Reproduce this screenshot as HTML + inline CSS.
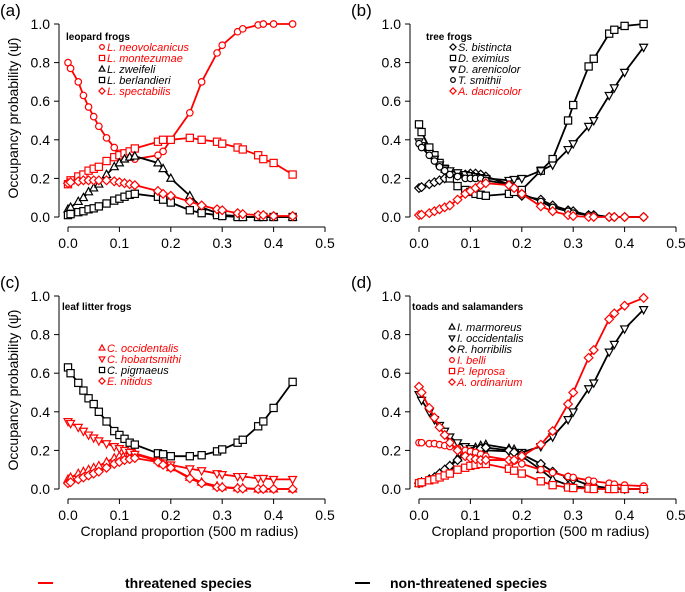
<!DOCTYPE html>
<html><head><meta charset="utf-8"><style>
body{margin:0;background:#fff}
svg{font-family:"Liberation Sans",sans-serif;display:block}
</style></head><body>
<svg id="chart" width="685" height="592" viewBox="0 0 685 592" xmlns="http://www.w3.org/2000/svg"></svg>
<script>
const xs=[0,0.005,0.02,0.03,0.04,0.05,0.06,0.075,0.09,0.1,0.11,0.12,0.13,0.175,0.185,0.2,0.237,0.26,0.29,0.3,0.33,0.34,0.37,0.38,0.4,0.437];
const xTicks=[0,0.1,0.2,0.3,0.4,0.5];
const xTickLabels=["0.0","0.1","0.2","0.3","0.4","0.5"];
const yTicks=[0,0.2,0.4,0.6,0.8,1.0];
const yTickLabels=["0.0","0.2","0.4","0.6","0.8","1.0"];
// panel a
const aNeovolcanicus=[0.80,0.77,0.70,0.63,0.57,0.52,0.47,0.41,0.36,0.33,0.32,0.31,0.30,0.32,0.34,0.40,0.54,0.70,0.85,0.89,0.96,0.975,0.995,1.0,1.0,1.0];
const aMontezumae=[0.17,0.19,0.21,0.22,0.24,0.25,0.26,0.29,0.31,0.32,0.33,0.34,0.355,0.39,0.40,0.40,0.41,0.40,0.39,0.38,0.36,0.35,0.32,0.30,0.28,0.22];
const aZweifeli=[0.04,0.05,0.08,0.10,0.13,0.15,0.17,0.22,0.26,0.28,0.30,0.31,0.315,0.28,0.25,0.20,0.11,0.05,0.02,0.01,0.005,0,0,0,0,0];
const aBerlandieri=[0.01,0.015,0.025,0.03,0.04,0.045,0.055,0.07,0.085,0.095,0.105,0.115,0.12,0.105,0.09,0.075,0.035,0.02,0.01,0.005,0,0,0,0,0,0];
const aSpectabilis=[0.175,0.18,0.185,0.19,0.19,0.19,0.19,0.19,0.185,0.18,0.175,0.17,0.165,0.135,0.12,0.11,0.08,0.06,0.04,0.035,0.02,0.015,0.01,0.01,0.005,0.005];
// panel b
const bBistincta=[0.15,0.155,0.17,0.18,0.19,0.20,0.205,0.215,0.22,0.225,0.225,0.22,0.21,0.17,0.14,0.11,0.09,0.06,0.035,0.03,0.01,0.01,0,0,0,0];
const bEximius=[0.48,0.44,0.36,0.32,0.28,0.25,0.20,0.16,0.14,0.13,0.12,0.115,0.11,0.12,0.13,0.14,0.24,0.30,0.50,0.58,0.78,0.82,0.95,0.97,0.99,1.0];
const bArenicolor=[0.39,0.37,0.33,0.30,0.27,0.25,0.24,0.23,0.22,0.215,0.21,0.205,0.20,0.19,0.195,0.20,0.24,0.27,0.35,0.38,0.47,0.50,0.63,0.67,0.75,0.88];
const bSmithii=[0.38,0.36,0.32,0.29,0.26,0.24,0.22,0.21,0.20,0.20,0.20,0.20,0.19,0.17,0.15,0.12,0.08,0.05,0.03,0.02,0.01,0.01,0,0,0,0];
const bDacnicolor=[0.01,0.012,0.02,0.03,0.04,0.05,0.06,0.09,0.12,0.135,0.15,0.165,0.175,0.165,0.15,0.12,0.055,0.03,0.01,0.005,0,0,0,0,0,0];
// panel c
const cOccidentalis=[0.05,0.06,0.08,0.09,0.10,0.11,0.12,0.14,0.16,0.17,0.18,0.185,0.185,0.15,0.13,0.11,0.06,0.035,0.015,0.01,0.005,0.005,0,0,0,0];
const cHobartsmithi=[0.35,0.34,0.32,0.30,0.28,0.265,0.25,0.235,0.22,0.21,0.20,0.19,0.18,0.145,0.135,0.125,0.105,0.095,0.08,0.075,0.065,0.065,0.055,0.055,0.05,0.05];
const cPigmaeus=[0.63,0.60,0.55,0.51,0.47,0.44,0.40,0.35,0.30,0.28,0.26,0.24,0.23,0.185,0.18,0.17,0.17,0.175,0.195,0.205,0.24,0.255,0.325,0.35,0.42,0.555];
const cNitidus=[0.03,0.035,0.05,0.06,0.07,0.08,0.09,0.11,0.13,0.14,0.15,0.155,0.16,0.14,0.125,0.11,0.055,0.03,0.01,0.008,0.003,0.002,0,0,0,0];
// panel d
const dMarmoreus=[0.03,0.035,0.05,0.06,0.08,0.10,0.12,0.16,0.19,0.20,0.215,0.225,0.23,0.21,0.205,0.17,0.10,0.05,0.02,0.015,0.005,0.003,0,0,0,0];
const dOccidentalis=[0.49,0.46,0.40,0.36,0.33,0.30,0.27,0.24,0.22,0.21,0.20,0.20,0.20,0.195,0.19,0.19,0.22,0.27,0.36,0.40,0.52,0.55,0.71,0.75,0.83,0.93];
const dHorribilis=[0.03,0.035,0.05,0.06,0.08,0.10,0.12,0.15,0.18,0.19,0.20,0.21,0.215,0.20,0.19,0.18,0.13,0.09,0.06,0.05,0.02,0.015,0.005,0.005,0,0];
const dBelli=[0.24,0.24,0.235,0.235,0.23,0.225,0.22,0.21,0.20,0.195,0.19,0.18,0.17,0.15,0.145,0.13,0.10,0.085,0.065,0.06,0.045,0.04,0.03,0.025,0.02,0.015];
const dLeprosa=[0.03,0.035,0.045,0.05,0.06,0.07,0.08,0.10,0.11,0.12,0.125,0.13,0.13,0.105,0.095,0.08,0.04,0.02,0.008,0.005,0.002,0,0,0,0,0];
const dOrdinarium=[0.53,0.50,0.42,0.37,0.32,0.28,0.24,0.20,0.17,0.16,0.155,0.15,0.15,0.15,0.15,0.17,0.23,0.30,0.44,0.50,0.68,0.72,0.88,0.91,0.95,0.99];

const RED="#ff0000",BLK="#000";
const panels=[
 {id:"a",label:"(a)",dx:0,dy:0,title:"leopard frogs",tx:66,ty:40,lx:102,ly:47,yTitle:true,xTitle:false,
  series:[["L. neovolcanicus",aNeovolcanicus,RED,"circle"],["L. montezumae",aMontezumae,RED,"square"],["L. zweifeli",aZweifeli,BLK,"tri"],["L. berlandieri",aBerlandieri,BLK,"square"],["L. spectabilis",aSpectabilis,RED,"diamond"]]},
 {id:"b",label:"(b)",dx:351,dy:0,title:"tree frogs",tx:426,ty:40,lx:453,ly:47,yTitle:false,xTitle:false,
  series:[["S. bistincta",bBistincta,BLK,"diamond"],["D. eximius",bEximius,BLK,"square"],["D. arenicolor",bArenicolor,BLK,"dtri"],["T. smithii",bSmithii,BLK,"circle"],["A. dacnicolor",bDacnicolor,RED,"diamond"]]},
 {id:"c",label:"(c)",dx:0,dy:272,title:"leaf litter frogs",tx:62,ty:310,lx:102,ly:348,yTitle:true,xTitle:true,
  series:[["C. occidentalis",cOccidentalis,RED,"tri"],["C. hobartsmithi",cHobartsmithi,RED,"dtri"],["C. pigmaeus",cPigmaeus,BLK,"square"],["E. nitidus",cNitidus,RED,"diamond"]]},
 {id:"d",label:"(d)",dx:351,dy:272,title:"toads and salamanders",tx:412,ty:310,lx:452,ly:327,yTitle:false,xTitle:true,
  series:[["I. marmoreus",dMarmoreus,BLK,"tri"],["I. occidentalis",dOccidentalis,BLK,"dtri"],["R. horribilis",dHorribilis,BLK,"diamond"],["I. belli",dBelli,RED,"circle"],["P. leprosa",dLeprosa,RED,"square"],["A. ordinarium",dOrdinarium,RED,"diamond"]]}
];
const svg=document.getElementById('chart');
const NS="http://www.w3.org/2000/svg";
function mk(tag,attrs,parent){const e=document.createElementNS(NS,tag);for(const k in attrs)e.setAttribute(k,attrs[k]);(parent||svg).appendChild(e);return e;}
function marker(g,shape,cx,cy,col,r){
 let e;
 if(shape==="circle")e=mk("circle",{cx,cy,r:r*0.9},g);
 else if(shape==="square")e=mk("rect",{x:cx-r,y:cy-r,width:2*r,height:2*r},g);
 else if(shape==="tri")e=mk("polygon",{points:`${cx},${cy-r*1.2} ${cx-r*1.1},${cy+r*0.8} ${cx+r*1.1},${cy+r*0.8}`},g);
 else if(shape==="dtri")e=mk("polygon",{points:`${cx},${cy+r*1.2} ${cx-r*1.1},${cy-r*0.8} ${cx+r*1.1},${cy-r*0.8}`},g);
 else e=mk("polygon",{points:`${cx},${cy-r*1.2} ${cx+r*1.2},${cy} ${cx},${cy+r*1.2} ${cx-r*1.2},${cy}`},g);
 e.setAttribute("fill","#fff");e.setAttribute("stroke",col);e.setAttribute("stroke-width","1.2");
 return e;
}
panels.forEach(p=>{
 const g=mk("g",{});
 
 
 const X=v=>p.dx+68+v*514, Y=v=>p.dy+217-v*193;
 const lab=mk("text",{x:p.dx+0,y:p.dy+16,"font-size":17},g);lab.textContent=p.label;
 
 const ya=mk("line",{x1:p.dx+59,x2:p.dx+59,y1:Y(1),y2:Y(0),stroke:"#000","stroke-width":1},g);
 
 yTicks.forEach((t,i)=>{
  mk("line",{x1:p.dx+54,x2:p.dx+59,y1:Y(t),y2:Y(t),stroke:"#000"},g);
  const tl=mk("text",{x:p.dx+50,y:Y(t)+5,"font-size":14,"text-anchor":"end"},g);tl.textContent=yTickLabels[i];
  
 });
 const xa=mk("line",{x1:X(0),x2:X(0.5),y1:p.dy+227,y2:p.dy+227,stroke:"#000"},g);
 
 xTicks.forEach((t,i)=>{
  mk("line",{x1:X(t),x2:X(t),y1:p.dy+227,y2:p.dy+232,stroke:"#000"},g);
  const tl=mk("text",{x:X(t),y:p.dy+248,"font-size":14,"text-anchor":"middle"},g);tl.textContent=xTickLabels[i];
  
 });
 if(p.yTitle){
  const t=mk("text",{x:0,y:0,"font-size":14,"text-anchor":"middle",transform:`translate(${p.dx+18},${p.dy+118}) rotate(-90)`},g);
  t.textContent="Occupancy probability (ψ̂)";
  
 }
 if(p.xTitle){
  const t=mk("text",{x:X(0.25)-7,y:p.dy+264,"font-size":14,"text-anchor":"middle"},g);
  t.textContent="Cropland proportion (500 m radius)";
  
 }
 p.series.forEach(s=>{
  const sg=mk("g",{},g);
  
  
  const pts=xs.map((x,i)=>X(x)+","+Y(s[1][i])).join(" ");
  mk("polyline",{points:pts,fill:"none",stroke:s[2],"stroke-width":1.8},sg);
  xs.forEach((x,i)=>marker(sg,s[3],X(x),Y(s[1][i]),s[2],3.6));
 });
 const tt=mk("text",{x:p.tx,y:p.ty,"font-size":10,"font-weight":"bold"},g);tt.textContent=p.title;
 
 p.series.forEach((s,i)=>{
  const ly=p.ly+i*11;
  const lg=mk("g",{},g);
  
  
  marker(lg,s[3],p.lx,ly,s[2],2.6);
  const t=mk("text",{x:p.lx+5,y:ly+4,"font-size":11,"font-style":"italic",fill:s[2]},lg);t.textContent=s[0];
 });
});
[[38,125,RED,"threatened species"],[355,390,BLK,"non-threatened species"]].forEach(l=>{
 const g=mk("g",{});
 
 
 mk("line",{x1:l[0],x2:l[0]+15,y1:583,y2:583,stroke:l[2],"stroke-width":2},g);
 const t=mk("text",{x:l[1],y:588,"font-size":14,"font-weight":"bold"},g);t.textContent=l[3];
});
</script>
</body></html>
